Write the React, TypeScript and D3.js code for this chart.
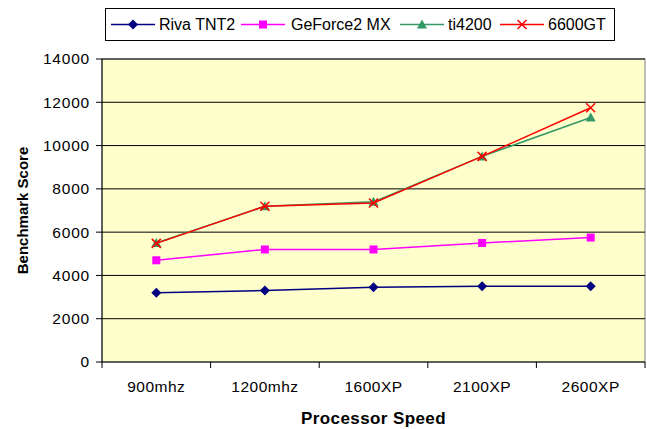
import React from "react";
import * as d3 from "d3";

const categories = ["900mhz", "1200mhz", "1600XP", "2100XP", "2600XP"];
const seriesNames = ["Riva TNT2", "GeForce2 MX", "ti4200", "6600GT"];
const rivaTNT2 = [3200, 3300, 3450, 3500, 3500];
const geforce2MX = [4700, 5200, 5200, 5500, 5750];
const ti4200 = [5500, 7200, 7400, 9500, 11300];
const gt6600 = [5480, 7200, 7350, 9500, 11750];
const yTicks = [0, 2000, 4000, 6000, 8000, 10000, 12000, 14000];

const colors = ["#000080", "#FF00FF", "#339966", "#FF0000"];
const markers = ["diamond", "square", "triangle", "cross"];
const seriesValues = [rivaTNT2, geforce2MX, ti4200, gt6600];

const W = 647, H = 429;
const plot = { left: 102, right: 645, top: 59, bottom: 362 };
const FONT = "'Liberation Sans', Arial, sans-serif";

function Marker({ type, x, y, color }: { type: string; x: number; y: number; color: string }) {
  if (type === "diamond") {
    const r = 5;
    return <path d={`M${x},${y - r}L${x + r},${y}L${x},${y + r}L${x - r},${y}Z`} fill={color} />;
  }
  if (type === "square") {
    const s = 8;
    return <rect x={x - s / 2} y={y - s / 2} width={s} height={s} fill={color} />;
  }
  if (type === "triangle") {
    const r = 5;
    return <path d={`M${x},${y - r}L${x + r},${y + r - 1}L${x - r},${y + r - 1}Z`} fill={color} />;
  }
  const r = 4.5;
  return (
    <path d={`M${x - r},${y - r}L${x + r},${y + r}M${x - r},${y + r}L${x + r},${y - r}`} stroke={color} strokeWidth={1.5} fill="none" />
  );
}

export default function App() {
  const x = d3.scaleBand<string>().domain(categories).range([plot.left, plot.right]);
  const y = d3.scaleLinear().domain([0, 14000]).range([plot.bottom, plot.top]);
  const cx = (c: string) => (x(c) as number) + x.bandwidth() / 2;
  const line = d3
    .line<number>()
    .x((_, i) => cx(categories[i]))
    .y((d) => y(d));

  const legendItems = [
    { lineX: 111, textX: 159 },
    { lineX: 241, textX: 291 },
    { lineX: 400, textX: 448 },
    { lineX: 500, textX: 548 },
  ];

  return (
    <svg width={W} height={H} style={{ display: "block", position: "absolute", left: 0, top: 0 }} fontFamily={FONT}>
      <rect x={0} y={0} width={W} height={H} fill="#ffffff" />
      <rect x={plot.left} y={plot.top} width={plot.right - plot.left} height={plot.bottom - plot.top} fill="#FFFFCC" stroke="#808080" strokeWidth={1} />
      {yTicks.filter((t) => t > 0).map((t) => (
        <line key={t} x1={plot.left} x2={plot.right} y1={y(t)} y2={y(t)} stroke="#000000" strokeWidth={1} />
      ))}
      <line x1={plot.left} x2={plot.left} y1={plot.top} y2={plot.bottom} stroke="#000" strokeWidth={1} />
      <line x1={plot.left} x2={plot.right} y1={plot.bottom} y2={plot.bottom} stroke="#000" strokeWidth={1} />
      {yTicks.map((t) => (
        <g key={t}>
          <line x1={plot.left - 6} x2={plot.left} y1={y(t)} y2={y(t)} stroke="#000" />
          <text x={plot.left - 12} y={y(t)} dy="0.35em" textAnchor="end" fontSize={15.5} letterSpacing={0.8} fill="#000">
            {t}
          </text>
        </g>
      ))}
      {categories.map((c, i) => (
        <g key={c}>
          <line x1={x(c) as number} x2={x(c) as number} y1={plot.bottom} y2={plot.bottom + 6} stroke="#000" />
          {i === categories.length - 1 && (
            <line x1={plot.right} x2={plot.right} y1={plot.bottom} y2={plot.bottom + 6} stroke="#000" />
          )}
          <text x={cx(c)} y={392} textAnchor="middle" fontSize={15.5} letterSpacing={0.5} fill="#000">
            {c}
          </text>
        </g>
      ))}
      {seriesValues.map((vals, si) => (
        <g key={si}>
          <path d={line(vals) as string} fill="none" stroke={colors[si]} strokeWidth={1.5} />
          {vals.map((v, i) => (
            <Marker key={i} type={markers[si]} x={cx(categories[i])} y={y(v)} color={colors[si]} />
          ))}
        </g>
      ))}
      <text x={(plot.left + plot.right) / 2} y={424} textAnchor="middle" fontSize={17} letterSpacing={0.4} fontWeight="bold" fill="#000">
        Processor Speed
      </text>
      <text transform={`translate(28,${(plot.top + plot.bottom) / 2}) rotate(-90)`} textAnchor="middle" fontSize={15} fontWeight="bold" fill="#000">
        Benchmark Score
      </text>
      <rect x={105.5} y={8.5} width={509} height={32} fill="#ffffff" stroke="#000" strokeWidth={1} />
      {seriesNames.map((n, si) => (
        <g key={n}>
          <line x1={legendItems[si].lineX} x2={legendItems[si].lineX + 44} y1={24.5} y2={24.5} stroke={colors[si]} strokeWidth={1.5} />
          <Marker type={markers[si]} x={legendItems[si].lineX + 22} y={24.5} color={colors[si]} />
          <text x={legendItems[si].textX} y={24.5} dy="0.35em" fontSize={16} fill="#000">
            {n}
          </text>
        </g>
      ))}
    </svg>
  );
}
